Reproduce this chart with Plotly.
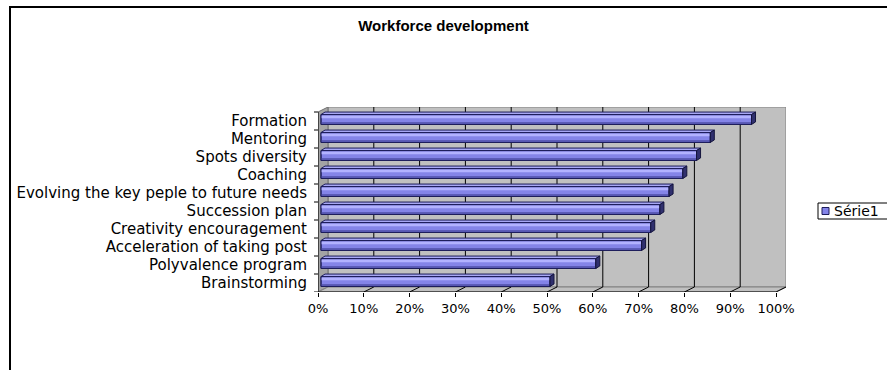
import plotly.graph_objects as go

# ---- data -------------------------------------------------------------
categories = [
    "Brainstorming",
    "Polyvalence program",
    "Acceleration of taking post",
    "Creativity encouragement",
    "Succession plan",
    "Evolving the key peple to future needs",
    "Coaching",
    "Spots diversity",
    "Mentoring",
    "Formation",
]
values = [0.50, 0.60, 0.70, 0.72, 0.74, 0.76, 0.79, 0.82, 0.85, 0.94]
x_ticks = [0.0, 0.1, 0.2, 0.3, 0.4, 0.5, 0.6, 0.7, 0.8, 0.9, 1.0]
x_tick_labels = ["0%", "10%", "20%", "30%", "40%", "50%", "60%", "70%", "80%", "90%", "100%"]
series_name = "Série1"
chart_title = "Workforce development"

# ---- geometry (pixels) -------------------------------------------------
W, H = 887, 370
LEFT, BOTTOM = 318, 292          # front corner of the floor
PX = 458                          # pixels per 100 %
PY = 18                           # pixels per category
DX, DY = 10, 5                    # depth of the 3-D box
PLOT_W = PX + DX
PLOT_H = PY * len(categories) + DY

xr = [0, PLOT_W / PX]
yr = [-0.5, -0.5 + PLOT_H / PY]
ddx, ddy = DX / PX, DY / PY

# bars sit a little behind the front plane
SX, SY = 3, 1.5
xr2 = [xr[0] - SX / PX, xr[1] - SX / PX]
yr2 = [yr[0] - SY / PY, yr[1] - SY / PY]
BAR_W = 0.55
cdx, cdy = 4 / PX, 2.5 / PY       # bar depth

FONT = "DejaVu Sans"
TITLE_FONT = "Liberation Sans"
BAR_FILL = "#8484E8"
BAR_EDGE = "#1C1C5A"
n = len(categories)
ypos = list(range(n))


def px_x(p):
    """pixel column -> paper x"""
    return (p - LEFT) / PLOT_W


def px_y(p):
    """pixel row -> paper y"""
    return (BOTTOM - p) / PLOT_H


fig = go.Figure()

# bar body
fig.add_trace(go.Bar(
    y=ypos, x=values, orientation="h", width=BAR_W,
    xaxis="x2", yaxis="y2", name=series_name,
    marker=dict(color=BAR_FILL, line=dict(color=BAR_EDGE, width=1)),
    showlegend=False, hoverinfo="skip",
))
# darker lower band
fig.add_trace(go.Bar(
    y=ypos, x=values, orientation="h", width=0.13, offset=-BAR_W / 2,
    xaxis="x2", yaxis="y2", marker=dict(color="#5C5CB8", line=dict(width=0)),
    showlegend=False, hoverinfo="skip",
))
# light upper band
fig.add_trace(go.Bar(
    y=ypos, x=values, orientation="h", width=0.15, offset=0.07,
    xaxis="x2", yaxis="y2", marker=dict(color="#B2B2FF", line=dict(width=0)),
    showlegend=False, hoverinfo="skip",
))
# outline on top
fig.add_trace(go.Bar(
    y=ypos, x=values, orientation="h", width=BAR_W,
    xaxis="x2", yaxis="y2",
    marker=dict(color="rgba(0,0,0,0)", line=dict(color=BAR_EDGE, width=1)),
    showlegend=False, hoverinfo="skip",
))

shapes = []

# outer chart frame (runs past the right and bottom edges)
shapes.append(dict(
    type="rect", xref="paper", yref="paper", layer="below",
    x0=px_x(10), x1=px_x(W + 20), y0=px_y(H + 20), y1=px_y(7),
    line=dict(color="black", width=2), fillcolor="rgba(0,0,0,0)",
))

# back wall
shapes.append(dict(
    type="rect", xref="x", yref="y", layer="below",
    x0=ddx, x1=xr[1], y0=-0.5 + ddy, y1=yr[1],
    fillcolor="#C0C0C0", line=dict(color="#808080", width=1),
))
# left side wall
top = n - 0.5
shapes.append(dict(
    type="path", xref="x", yref="y", layer="below",
    path=f"M0,-0.5 L{ddx},{-0.5 + ddy} L{ddx},{yr[1]} L0,{top} Z",
    fillcolor="#A4A4A4", line=dict(color="#707070", width=1),
))
# floor
shapes.append(dict(
    type="path", xref="x", yref="y", layer="below",
    path=f"M0,-0.5 L{x_ticks[-1]},-0.5 L{x_ticks[-1] + ddx},{-0.5 + ddy} L{ddx},{-0.5 + ddy} Z",
    fillcolor="#C0C0C0", line=dict(color="#808080", width=1),
))
# gridlines on back wall and floor
for t in x_ticks[1:]:
    if t < x_ticks[-1]:
        shapes.append(dict(
            type="line", xref="x", yref="y", layer="below",
            x0=t + ddx, x1=t + ddx, y0=-0.5 + ddy, y1=yr[1],
            line=dict(color="black", width=1),
        ))
    shapes.append(dict(
        type="line", xref="x", yref="y", layer="below",
        x0=t, x1=t + ddx, y0=-0.5, y1=-0.5 + ddy,
        line=dict(color="black", width=1),
    ))
# front axis lines
shapes.append(dict(type="line", xref="x", yref="y", x0=0, x1=x_ticks[-1], y0=-0.5, y1=-0.5,
                   line=dict(color="black", width=1)))
shapes.append(dict(type="line", xref="x", yref="y", x0=0, x1=0, y0=-0.5, y1=top,
                   line=dict(color="black", width=1)))
# category boundary ticks
for i in range(n + 1):
    shapes.append(dict(type="line", xref="paper", yref="y",
                       x0=-4 / PLOT_W, x1=0, y0=i - 0.5, y1=i - 0.5,
                       line=dict(color="black", width=1)))

# 3-D faces of each bar
for yv, v in zip(ypos, values):
    yb, yt = yv - BAR_W / 2, yv + BAR_W / 2
    shapes.append(dict(
        type="path", xref="x2", yref="y2",
        path=f"M0,{yt} L{cdx},{yt + cdy} L{v + cdx},{yt + cdy} L{v},{yt} Z",
        fillcolor="#A8A8F4", line=dict(color=BAR_EDGE, width=1),
    ))
    shapes.append(dict(
        type="path", xref="x2", yref="y2",
        path=f"M{v},{yb} L{v + cdx},{yb + cdy} L{v + cdx},{yt + cdy} L{v},{yt} Z",
        fillcolor="#30306E", line=dict(color="#14143C", width=1),
    ))

# legend box (clipped by the right edge)
LEG_CY = 211
shapes.append(dict(
    type="rect", xref="paper", yref="paper",
    x0=px_x(818), x1=px_x(W + 10), y0=px_y(LEG_CY + 8), y1=px_y(LEG_CY - 8),
    fillcolor="white", line=dict(color="black", width=1),
))
shapes.append(dict(
    type="rect", xref="paper", yref="paper",
    x0=px_x(822), x1=px_x(829), y0=px_y(LEG_CY + 3.5), y1=px_y(LEG_CY - 3.5),
    fillcolor=BAR_FILL, line=dict(color=BAR_EDGE, width=1),
))
annotations = [dict(
    text=series_name, xref="paper", yref="paper", x=px_x(832), y=px_y(LEG_CY),
    xanchor="left", yanchor="middle", showarrow=False,
    font=dict(family=FONT, size=14, color="black"),
)]

fig.update_layout(
    width=W, height=H,
    margin=dict(l=LEFT, r=W - LEFT - PLOT_W, t=BOTTOM - PLOT_H, b=H - BOTTOM,
                pad=0, autoexpand=False),
    paper_bgcolor="white", plot_bgcolor="rgba(0,0,0,0)",
    barmode="overlay",
    font=dict(family=FONT, size=14, color="black"),
    title=dict(text=f"<b>{chart_title}</b>", x=0.5, xref="container", xanchor="center",
               y=1 - 26 / H, yanchor="middle", yref="container",
               font=dict(family=TITLE_FONT, size=15, color="black")),
    xaxis=dict(range=xr, tickvals=x_ticks, ticktext=x_tick_labels,
               ticks="outside", ticklen=4, tickcolor="black", tickwidth=1,
               showgrid=False, zeroline=False, showline=False,
               tickfont=dict(family=FONT, size=13), fixedrange=True),
    yaxis=dict(range=yr, tickvals=ypos, ticktext=categories,
               ticks="", showgrid=False, zeroline=False, showline=False,
               ticklabelstandoff=10,
               tickfont=dict(family=FONT, size=15), fixedrange=True),
    xaxis2=dict(range=xr2, overlaying="x", visible=False, fixedrange=True),
    yaxis2=dict(range=yr2, overlaying="y", visible=False, fixedrange=True),
    shapes=shapes,
    annotations=annotations,
    showlegend=False,
)

fig.write_html("out.html")
